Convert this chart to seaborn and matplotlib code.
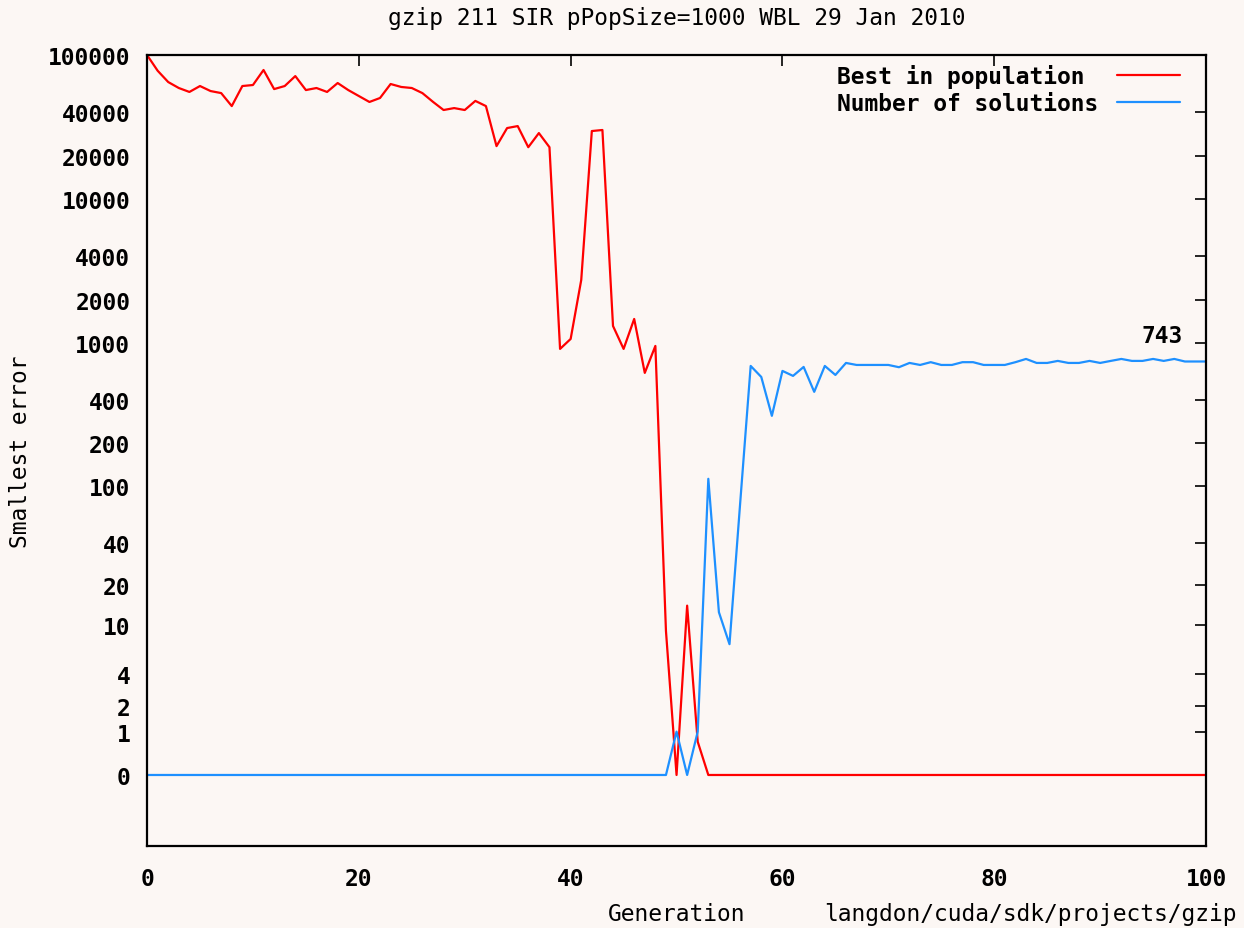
import numpy as np
import pandas as pd
import seaborn as sns
import matplotlib.pyplot as plt

# values (generation 0..100)
generations = list(range(101))

best_in_population = [
    100000, 77800, 64900, 59000, 55400, 60900, 56200, 54400, 44200, 60900,
    61900, 78700, 58000, 60900, 71400, 57100, 59000, 55400, 63900, 57100,
    51900, 47200, 50300, 62900, 60000, 59000, 54400, 47300, 41500, 42800,
    41500, 48000, 44200, 23300, 31100, 32100, 22900, 28700, 22900, 909,
    1066, 2738, 29650, 30150, 1312, 909, 1468, 619, 953, 9,
    0, 14, 0.7, 0, 0, 0, 0, 0, 0, 0,
    0, 0, 0, 0, 0, 0, 0, 0, 0, 0,
    0, 0, 0, 0, 0, 0, 0, 0, 0, 0,
    0, 0, 0, 0, 0, 0, 0, 0, 0, 0,
    0, 0, 0, 0, 0, 0, 0, 0, 0, 0,
    0,
]

number_of_solutions = [
    0, 0, 0, 0, 0, 0, 0, 0, 0, 0,
    0, 0, 0, 0, 0, 0, 0, 0, 0, 0,
    0, 0, 0, 0, 0, 0, 0, 0, 0, 0,
    0, 0, 0, 0, 0, 0, 0, 0, 0, 0,
    0, 0, 0, 0, 0, 0, 0, 0, 0, 0,
    1, 0, 1, 113, 12.5, 7.1, 75, 692, 580, 311,
    639, 590, 681, 457, 692, 599, 726, 703, 703, 703,
    703, 678, 726, 703, 735, 703, 703, 735, 735, 703,
    703, 703, 735, 774, 726, 726, 750, 726, 726, 750,
    726, 750, 774, 750, 750, 774, 750, 774, 743, 743,
    743,
]

y_ticks = [0, 1, 2, 4, 10, 20, 40, 100, 200, 400, 1000, 2000, 4000,
           10000, 20000, 40000, 100000]
x_ticks = [0, 20, 40, 60, 80, 100]

data = pd.DataFrame({"Generation": generations,
                     "Best in population": best_in_population,
                     "Number of solutions": number_of_solutions})

sns.set_style("white")
plt.rcParams['font.family'] = ['DejaVu Sans Mono']
plt.rcParams['text.color'] = 'black'
plt.rcParams['axes.labelcolor'] = 'black'
plt.rcParams['xtick.color'] = 'black'
plt.rcParams['ytick.color'] = 'black'

fs = 16.5
bg = '#fcf7f4'
fig = plt.figure(figsize=(12.44, 9.29), dpi=100)
fig.patch.set_facecolor(bg)
ax = fig.add_axes([0.1182, 0.0883, 0.8513, 0.8514])
ax.set_facecolor(bg)


# gnuplot style log(1+y) axis
def fwd(y):
    return np.log10(np.maximum(1 + np.asarray(y, dtype=float), 1e-12))


def inv(t):
    return 10 ** np.asarray(t, dtype=float) - 1


ax.set_yscale('function', functions=(fwd, inv))

sns.lineplot(data=data, x="Generation", y="Best in population", color='#ff0000',
             lw=1.6, label="Best in population ", ax=ax)
sns.lineplot(data=data, x="Generation", y="Number of solutions", color='#1e90ff',
             lw=1.6, label="Number of solutions", ax=ax)

ax.set_xlim(0, 100)
ax.set_ylim(inv(-0.493), 100000)
ax.set_yticks(y_ticks)
ax.set_yticklabels([str(t) for t in y_ticks])
ax.set_xticks(x_ticks)
ax.set_xticklabels([str(t) for t in x_ticks])
ax.minorticks_off()
ax.tick_params(axis='both', direction='in', length=8, width=1.2,
               top=True, right=True, labelsize=fs)
ax.tick_params(axis='y', pad=12)
ax.tick_params(axis='x', pad=15)
for lab in ax.get_xticklabels() + ax.get_yticklabels():
    lab.set_fontweight('bold')
for sp in ax.spines.values():
    sp.set_color('black')
    sp.set_linewidth(1.6)

ax.set_xlabel("Generation", fontsize=fs, labelpad=9)
ax.set_ylabel("Smallest error", fontsize=fs)
ax.yaxis.set_label_coords(-0.1086, 0.5)
ax.set_title("gzip 211 SIR pPopSize=1000 WBL 29 Jan 2010", fontsize=fs, pad=22)

leg = ax.legend(loc='upper right', bbox_to_anchor=(0.984, 1.0), borderaxespad=0,
                markerfirst=False, frameon=False,
                prop={'size': fs, 'weight': 'bold'}, handlelength=2.75,
                handletextpad=0.83, labelspacing=0.15)
for line in leg.get_lines():
    line.set_linewidth(1.6)

ax.annotate("743", xy=(100, 743), xytext=(-17, 19), textcoords='offset points',
            ha='right', va='center', fontsize=fs, fontweight='bold')

fig.text(0.9945, 0.016, "langdon/cuda/sdk/projects/gzip", ha='right', va='center',
         fontsize=fs)

fig.savefig("out.png", dpi=100, facecolor=fig.get_facecolor())
